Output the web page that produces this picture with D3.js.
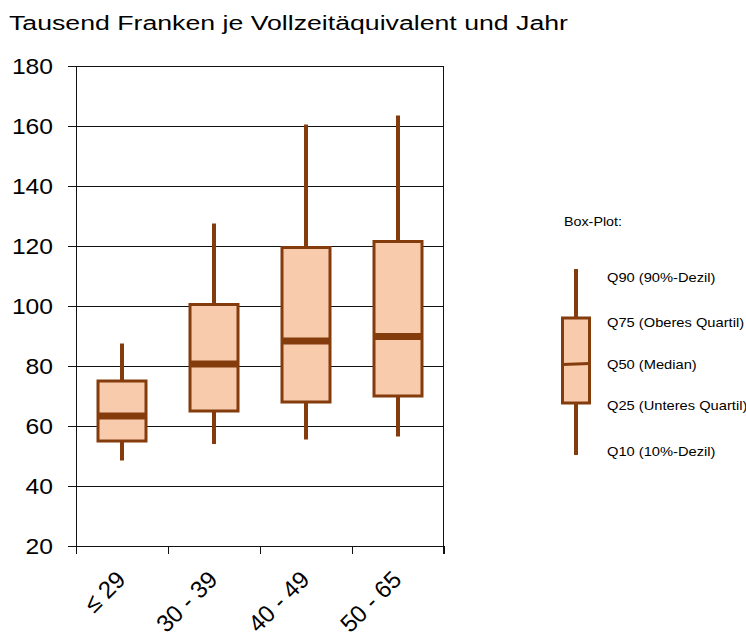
<!DOCTYPE html>
<html>
<head>
<meta charset="utf-8">
<script src="https://cdn.jsdelivr.net/npm/d3@7"></script>
<style>
  body { margin: 0; background: #fff; }
  svg { font-family: "Liberation Sans", Arial, sans-serif; }
</style>
</head>
<body>
<svg width="746" height="632"></svg>
<script>
var categories = ["≤ 29", "30 - 39", "40 - 49", "50 - 65"];
var q10 = [48.5, 54, 55.5, 56.5];
var q25 = [55, 65, 68, 70];
var q50 = [63.3, 80.7, 88.3, 89.8];
var q75 = [75, 100.5, 119.5, 121.5];
var q90 = [87.5, 127.5, 160.5, 163.5];
var yTicks = [20, 40, 60, 80, 100, 120, 140, 160, 180];

var legendLabels = ["Q90 (90%-Dezil)", "Q75 (Oberes Quartil)", "Q50 (Median)", "Q25 (Unteres Quartil)", "Q10 (10%-Dezil)"];

var fill = "#f8cbad", stroke = "#843c0c";

var svg = d3.select("svg"),
    margin = {top: 66, left: 76},
    width = 368,
    height = 480;

var x = d3.scaleBand().domain(categories).range([0, width]);
var y = d3.scaleLinear().domain([20, 180]).range([height, 0]);

var data = categories.map(function(c, i) {
  return {cat: c, q10: q10[i], q25: q25[i], q50: q50[i], q75: q75[i], q90: q90[i]};
});

// the source picture is a bit wider than tall, so text is stretched horizontally
svg.append("text")
    .attr("x", 9)
    .attr("y", 29.5)
    .attr("font-size", 20)
    .attr("textLength", 559)
    .attr("lengthAdjust", "spacingAndGlyphs")
    .text("Tausend Franken je Vollzeitäquivalent und Jahr");

var g = svg.append("g")
    .attr("transform", "translate(" + margin.left + "," + margin.top + ")");

// gridlines, extended left as tick marks
g.append("g").selectAll("line")
    .data(yTicks)
  .enter().append("line")
    .attr("x1", -8)
    .attr("x2", width)
    .attr("y1", function(d) { return Math.round(y(d)) + 0.5; })
    .attr("y2", function(d) { return Math.round(y(d)) + 0.5; })
    .attr("stroke", "#111")
    .attr("stroke-width", 1);

g.append("g").selectAll("text")
    .data(yTicks)
  .enter().append("text")
    .attr("transform", function(d) { return "translate(-23," + (y(d) + 8) + ") scale(1.12,1)"; })
    .attr("text-anchor", "end")
    .attr("font-size", 22)
    .text(function(d) { return d; });

// frame
g.append("line").attr("x1", 0.5).attr("x2", 0.5).attr("y1", 0).attr("y2", height).attr("stroke", "#111");
g.append("line").attr("x1", width - 0.5).attr("x2", width - 0.5).attr("y1", 0).attr("y2", height + 8).attr("stroke", "#111");

// x ticks
var xTickPos = categories.map(function(c) { return x(c); }).concat([width]);
g.append("g").selectAll("line")
    .data(xTickPos)
  .enter().append("line")
    .attr("x1", function(d) { return Math.round(d) + 0.5; })
    .attr("x2", function(d) { return Math.round(d) + 0.5; })
    .attr("y1", height)
    .attr("y2", height + 8)
    .attr("stroke", "#111");

g.append("g").selectAll("text")
    .data(categories)
  .enter().append("text")
    .attr("transform", function(d) {
      return "translate(" + (x(d) + x.bandwidth() / 2 + 5) + "," + (height + 35) + ") rotate(-45)";
    })
    .attr("text-anchor", "end")
    .attr("font-size", 24)
    .text(function(d) { return d; });

// boxes
var boxW = 48;
var box = g.append("g").selectAll("g")
    .data(data)
  .enter().append("g")
    .attr("transform", function(d) { return "translate(" + (x(d.cat) + x.bandwidth() / 2) + ",0)"; });

box.append("line")
    .attr("y1", function(d) { return y(d.q90); })
    .attr("y2", function(d) { return y(d.q10); })
    .attr("stroke", stroke)
    .attr("stroke-width", 4);

box.append("rect")
    .attr("x", -boxW / 2)
    .attr("width", boxW)
    .attr("y", function(d) { return y(d.q75); })
    .attr("height", function(d) { return y(d.q25) - y(d.q75); })
    .attr("fill", fill)
    .attr("stroke", stroke)
    .attr("stroke-width", 3);

box.append("line")
    .attr("x1", -boxW / 2)
    .attr("x2", boxW / 2)
    .attr("y1", function(d) { return y(d.q50); })
    .attr("y2", function(d) { return y(d.q50); })
    .attr("stroke", stroke)
    .attr("stroke-width", 7);

// legend
svg.append("text")
    .attr("transform", "translate(564,226) scale(1.1,1)")
    .attr("font-size", 13)
    .text("Box-Plot:");

var legY = [269, 318, 364, 403, 455];
var lx = 576, lw = 27;

var lg = svg.append("g");
lg.append("line")
    .attr("x1", lx).attr("x2", lx)
    .attr("y1", legY[0]).attr("y2", legY[4])
    .attr("stroke", stroke).attr("stroke-width", 4);
lg.append("rect")
    .attr("x", lx - lw / 2).attr("width", lw)
    .attr("y", legY[1]).attr("height", legY[3] - legY[1])
    .attr("fill", fill).attr("stroke", stroke).attr("stroke-width", 3);
lg.append("line")
    .attr("x1", lx - lw / 2).attr("x2", lx + lw / 2)
    .attr("y1", legY[2] + 0.5).attr("y2", legY[2] - 0.5)
    .attr("stroke", stroke).attr("stroke-width", 3);

var labelY = [282, 327, 369, 410, 456];
lg.selectAll("text.lab")
    .data(legendLabels)
  .enter().append("text")
    .attr("class", "lab")
    .attr("transform", function(d, i) { return "translate(607," + labelY[i] + ") scale(1.13,1)"; })
    .attr("font-size", 13)
    .text(function(d) { return d; });
</script>
</body>
</html>
